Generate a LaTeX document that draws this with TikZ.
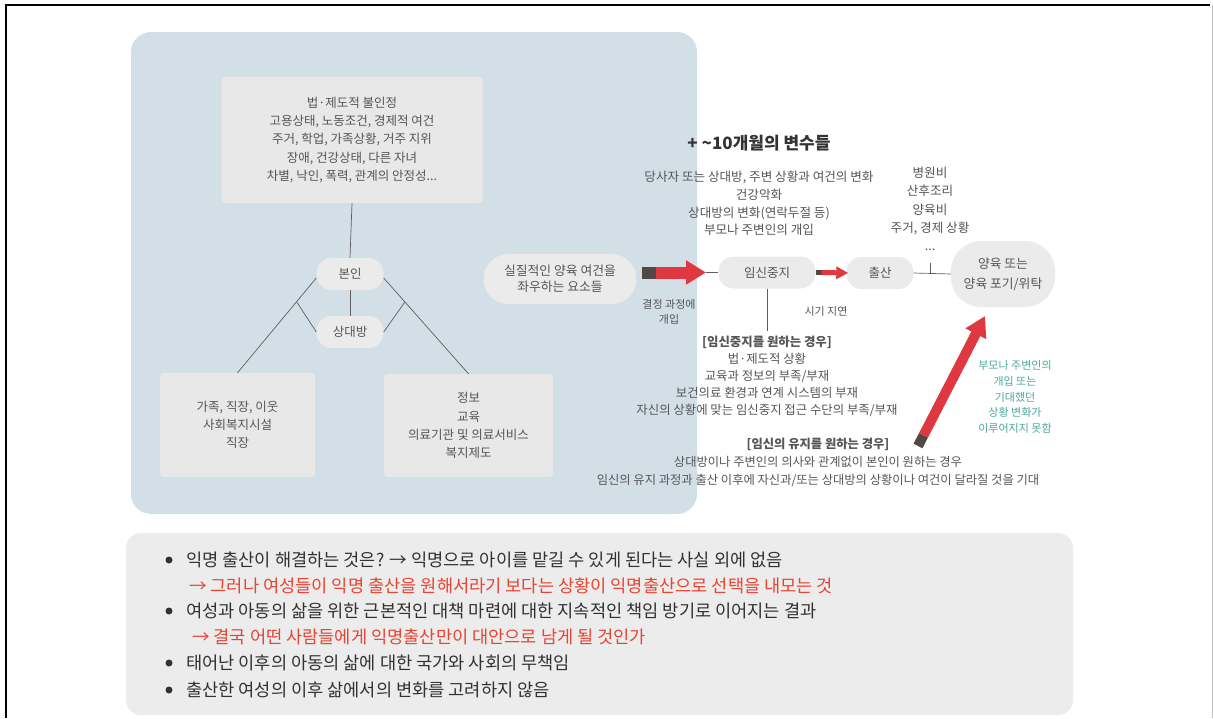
\documentclass[tikz,border=0pt]{standalone}
\usepackage{fontspec}
\setmainfont{Noto Sans CJK KR}
\usetikzlibrary{arrows.meta,calc}
\definecolor{panelblue}{RGB}{210,223,231}
\definecolor{boxgray}{RGB}{232,232,232}
\definecolor{pillgray}{RGB}{235,235,235}
\definecolor{txt}{RGB}{85,85,85}
\definecolor{linec}{RGB}{95,95,95}
\definecolor{arrowred}{RGB}{224,56,64}
\definecolor{taildark}{RGB}{82,72,68}
\definecolor{tealtxt}{RGB}{72,168,160}
\definecolor{bottomgray}{RGB}{236,236,236}
\definecolor{bottomtxt}{RGB}{50,50,50}
\definecolor{accent}{RGB}{232,68,50}
\newcommand{\myfs}[2]{\fontsize{#1}{#2}\selectfont}
\begin{document}
\begin{tikzpicture}[x=1pt,y=-1pt,
  every node/.style={text=txt, inner sep=0pt},
  pill/.style={fill=pillgray, rounded corners=15pt, minimum height=32pt, align=center, font=\myfs{12.5}{18}},
  gbox/.style={fill=boxgray, rounded corners=3pt, align=center, font=\myfs{12.5}{18.3}},
  conn/.style={draw=linec, line width=0.7pt},
  lbl/.style={align=center, font=\myfs{12.6}{17.7}},
  small/.style={align=center, font=\myfs{11}{15}},
  tailseg/.style={draw=taildark},
  redshaft/.style={draw=arrowred},
  btxt/.style={anchor=west, text=bottomtxt, font=\myfs{17.6}{20}},
  rtxt/.style={anchor=west, text=accent, font=\myfs{17.6}{20}},
  bullet/.style={circle, fill=bottomtxt, minimum size=7pt, inner sep=0pt}
]
\useasboundingbox (0,0) rectangle (1213,718);
% frame
\draw[black, line width=1.3pt] (6,718) -- (6,5) -- (1210,5);
\draw[gray!50, line width=0.8pt] (1212,5) -- (1212,718);

% blue panel
\fill[panelblue, rounded corners=20pt] (131,32) rectangle (697,514);

% left tree
\node[gbox, minimum width=261pt, minimum height=126pt] (top) at (352,140)
  {법·제도적 불인정\\고용상태, 노동조건, 경제적 여건\\주거, 학업, 가족상황, 거주 지위\\장애, 건강상태, 다른 자녀\\차별, 낙인, 폭력, 관계의 안정성...};
\node[pill, minimum width=67pt] (bon) at (350,274) {본인};
\node[pill, minimum width=67pt] (sang) at (350,332) {상대방};
\node[gbox, minimum width=155pt, minimum height=104pt] (lbox) at (237.5,425) {가족, 직장, 이웃\\사회복지시설\\직장};
\node[gbox, minimum width=169pt, minimum height=103pt] (rbox) at (468.5,425.5) {정보\\교육\\의료기관 및 의료서비스\\복지제도};

\draw[conn] (top.south) -- (bon.north);
\draw[conn] (bon.south) -- (sang.north);
\coordinate (bL) at ($(bon.west)+(0,4)$);
\coordinate (bR) at ($(bon.east)+(0,4)$);
\draw[conn] (bL) -- (lbox.north);
\draw[conn] (bR) -- (rbox.north);
\coordinate (bLm) at ($(bL)!0.25!(lbox.north)$);
\coordinate (bRm) at ($(bR)!0.25!(rbox.north)$);
\draw[conn] (bLm) -- (sang.west);
\draw[conn] (bRm) -- (sang.east);

% main flow
\node[pill, minimum width=153pt, minimum height=50pt, rounded corners=25pt, font=\myfs{12.8}{16}] (pA) at (560,279) {실질적인 양육 여건을\\좌우하는 요소들};
\node[pill, minimum width=97pt] (p2) at (767,272.5) {임신중지};
\node[pill, minimum width=67pt] (p3) at (880,273) {출산};
\node[pill, minimum width=104pt, minimum height=66pt, rounded corners=30pt, font=\myfs{12.8}{20}] (p4) at (1003,274) {양육 또는\\양육 포기/위탁};

% big arrow
\coordinate (A1s) at (642,272.5);
\coordinate (A1m) at (656,272.5);
\coordinate (A1e) at (706,272.5);
\draw[tailseg, line width=12pt] (A1s) -- (A1m);
\draw[redshaft, line width=12pt, -{Triangle[length=20pt,width=23pt]}] (A1m) -- (A1e);
\draw[conn] (A1e) -- (p2.west);

% small arrow
\coordinate (A2m) at ($(p2.east)+(6,0)$);
\coordinate (A2e) at ($(p3.west)+(2,0)$);
\draw[tailseg, line width=5pt] (p2.east) -- (A2m);
\draw[redshaft, line width=5pt, -{Triangle[length=12pt,width=12pt]}] (A2m) -- (A2e);

% line to final
\draw[conn] (p3.east) -- (p4.west);
\coordinate (tk) at (930,263);
\draw[conn] (tk) -- (tk |- p3.east);

% vertical from p2
\coordinate (vEnd) at (767,331);
\draw[conn] (p2.south) -- (vEnd);

% diagonal arrow
\coordinate (D1) at (918,446);
\coordinate (D2) at (923.5,435.3);
\coordinate (D3) at (985,316);
\draw[tailseg, line width=10pt] (D1) -- (D2);
\draw[redshaft, line width=10pt, -{Triangle[length=20pt,width=22pt]}] (D2) -- (D3);

% labels
\node[font=\bfseries\myfs{17}{20}, text=black!80] (title) at (759,143) {+ \textasciitilde10개월의 변수들};
\node[lbl] (vars) at (759,203.5) {당사자 또는 상대방, 주변 상황과 여건의 변화\\건강악화\\상대방의 변화(연락두절 등)\\부모나 주변인의 개입};
\node[lbl, font=\myfs{12.6}{18.3}] (costs) at (930,209) {병원비\\산후조리\\양육비\\주거, 경제 상황\\...};
\node[small] (decide) at (669,312) {결정 과정에\\개입};
\node[small] (delay) at (826,311) {시기 지연};
\node[lbl, font=\myfs{12.4}{17}] (abort) at (767,376) {\textbf{[임신중지를 원하는 경우]}\\법·제도적 상황\\교육과 정보의 부족/부재\\보건의료 환경과 연계 시스템의 부재\\자신의 상황에 맞는 임신중지 접근 수단의 부족/부재};
\node[lbl, font=\myfs{12.3}{18}] (keep) at (818,462) {\textbf{[임신의 유지를 원하는 경우]}\\상대방이나 주변인의 의사와 관계없이 본인이 원하는 경우\\임신의 유지 과정과 출산 이후에 자신과/또는 상대방의 상황이나 여건이 달라질 것을 기대};
\node[align=center, font=\myfs{11}{15.8}, text=tealtxt] (fail) at (1015,397) {부모나 주변인의\\개입 또는\\기대했던\\상황 변화가\\이루어지지 못함};

% bottom panel
\fill[bottomgray, rounded corners=15pt] (126,533) rectangle (1073,715);
\node[bullet] (b1) at (169,560) {};
\node[btxt] (t1) at (186,560) {익명 출산이 해결하는 것은? → 익명으로 아이를 맡길 수 있게 된다는 사실 외에 없음};
\node[rtxt] (t2) at (189,586) {→ 그러나 여성들이 익명 출산을 원해서라기 보다는 상황이 익명출산으로 선택을 내모는 것};
\node[bullet] (b3) at (169,611) {};
\node[btxt] (t3) at (186,611) {여성과 아동의 삶을 위한 근본적인 대책 마련에 대한 지속적인 책임 방기로 이어지는 결과};
\node[rtxt] (t4) at (192,637) {→ 결국 어떤 사람들에게 익명출산만이 대안으로 남게 될 것인가};
\node[bullet] (b5) at (169,663) {};
\node[btxt] (t5) at (186,663) {태어난 이후의 아동의 삶에 대한 국가와 사회의 무책임};
\node[bullet] (b6) at (169,690) {};
\node[btxt] (t6) at (186,690) {출산한 여성의 이후 삶에서의 변화를 고려하지 않음};
\end{tikzpicture}
\end{document}
